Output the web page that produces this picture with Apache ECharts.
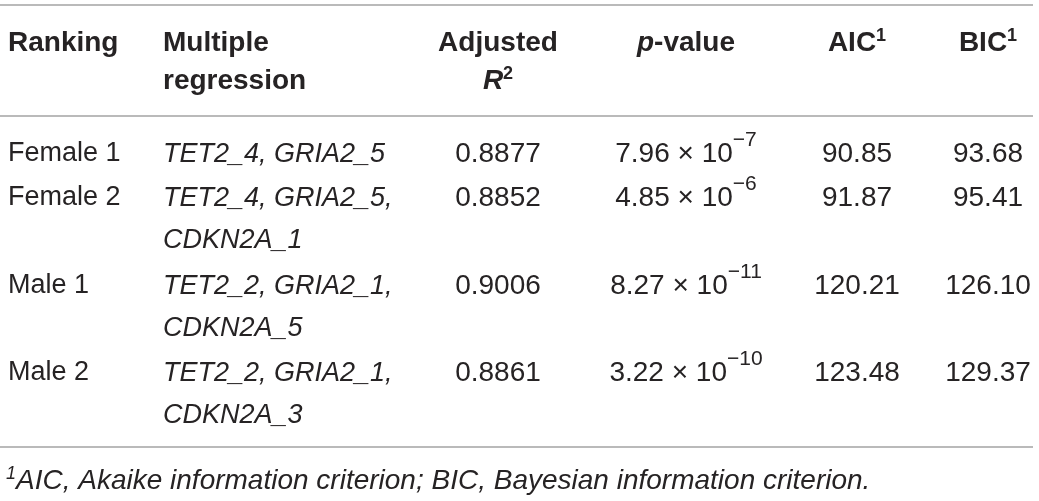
<!DOCTYPE html>
<html>
<head>
<meta charset="utf-8">
<script src="https://cdn.jsdelivr.net/npm/echarts@6/dist/echarts.min.js"></script>
<style>
html, body { margin: 0; padding: 0; background: #fff; }
#main { width: 1039px; height: 501px; }
</style>
</head>
<body>
<div id="main"></div>
<script>
// table data
var ranking = ['Female 1', 'Female 2', 'Male 1', 'Male 2'];
var regression = [
  ['TET2_4, GRIA2_5'],
  ['TET2_4, GRIA2_5,', 'CDKN2A_1'],
  ['TET2_2, GRIA2_1,', 'CDKN2A_5'],
  ['TET2_2, GRIA2_1,', 'CDKN2A_3']
];
var adjustedR2 = [0.8877, 0.8852, 0.9006, 0.8861];
var pMantissa = [7.96, 4.85, 8.27, 3.22];
var pExponent = [-7, -6, -11, -10];
var aic = [90.85, 91.87, 120.21, 123.48];
var bic = [93.68, 95.41, 126.10, 129.37];

// header lines (rich text markup)
var headers = [
  ['{b|Ranking}'],
  ['{b|Multiple}', '{b|regression}'],
  ['{b|Adjusted}', '{bi|R}{bs|2}'],
  ['{bi|p}{b|-value}'],
  ['{b|AIC}{bs|1}'],
  ['{b|BIC}{bs|1}']
];
var footnote = '{fs|1}{fi|AIC, Akaike information criterion; BIC, Bayesian information criterion.}';

// layout
var colX = [8, 163, 498, 686, 857, 988];
var colAlign = ['left', 'left', 'center', 'center', 'center', 'center'];
var headerY = [43, 81];
var rowY = [154, 198, 286, 373];
var lineGap = 42;
var ruleY = [5, 116, 447];
var ruleEnd = 1033;
var footY = 481;

var INK = '#262324';
var FONT = '"Liberation Sans", Arial, Helvetica, sans-serif';
var SIZE = 28;
var RICH = {
  b:  { fontFamily: FONT, fontSize: SIZE, fontWeight: 'bold', lineHeight: 32, fill: INK },
  bi: { fontFamily: FONT, fontSize: SIZE, fontWeight: 'bold', fontStyle: 'italic', lineHeight: 32, fill: INK },
  bs: { fontFamily: FONT, fontSize: 18, fontWeight: 'bold', verticalAlign: 'top', lineHeight: 18, fill: INK },
  n:  { fontFamily: FONT, fontSize: SIZE, lineHeight: 32, fill: INK },
  t:  { fontFamily: FONT, fontSize: 27, lineHeight: 32, fill: INK },
  pn: { fontFamily: FONT, fontSize: SIZE, lineHeight: 48, fill: INK },
  i:  { fontFamily: FONT, fontSize: 27, fontStyle: 'italic', lineHeight: 32, fill: INK },
  s:  { fontFamily: FONT, fontSize: 21, verticalAlign: 'top', lineHeight: 21, fill: INK },
  fi: { fontFamily: FONT, fontSize: SIZE, fontStyle: 'italic', lineHeight: 32, fill: INK },
  fs: { fontFamily: FONT, fontSize: 18, fontStyle: 'italic', verticalAlign: 'top', lineHeight: 18, fill: INK }
};

// build the cells
var cells = [];
function addCell(col, y, text) {
  cells.push({ x: colX[col], y: y, text: text, align: colAlign[col] });
}
for (var j = 0; j < headers.length; j++) {
  for (var k = 0; k < headers[j].length; k++) {
    addCell(j, headerY[k], headers[j][k]);
  }
}
for (var i = 0; i < ranking.length; i++) {
  var y = rowY[i];
  addCell(0, y, '{t|' + ranking[i] + '}');
  for (var k = 0; k < regression[i].length; k++) {
    addCell(1, y + k * lineGap, '{i|' + regression[i][k] + '}');
  }
  addCell(2, y, '{n|' + adjustedR2[i].toFixed(4) + '}');
  addCell(3, y, '{pn|' + pMantissa[i].toFixed(2) + ' \u00d7 10}{s|\u2212' + Math.abs(pExponent[i]) + '}');
  addCell(4, y, '{n|' + aic[i].toFixed(2) + '}');
  addCell(5, y, '{n|' + bic[i].toFixed(2) + '}');
}
cells.push({ x: 6, y: footY, text: footnote, align: 'left' });

var chart = echarts.init(document.getElementById('main'));
var option = {
  animation: false,
  backgroundColor: '#fff',
  grid: { left: 0, right: 0, top: 0, bottom: 0 },
  xAxis: { type: 'value', min: 0, max: 1039, show: false },
  yAxis: { type: 'value', min: 0, max: 501, inverse: true, show: false },
  series: [
    {
      type: 'custom',
      silent: true,
      data: ruleY.map(function (v) { return [0, v, ruleEnd]; }),
      renderItem: function (params, api) {
        var p0 = api.coord([api.value(0), api.value(1)]);
        var p1 = api.coord([api.value(2), api.value(1)]);
        return {
          type: 'line',
          shape: { x1: p0[0], y1: p0[1], x2: p1[0], y2: p1[1] },
          style: { stroke: '#a3a3a3', lineWidth: 1.5 }
        };
      }
    },
    {
      type: 'custom',
      silent: true,
      data: cells.map(function (c, idx) { return [c.x, c.y, idx]; }),
      renderItem: function (params, api) {
        var c = cells[api.value(2)];
        var p = api.coord([api.value(0), api.value(1)]);
        return {
          type: 'text',
          x: p[0],
          y: p[1],
          style: {
            text: c.text,
            rich: RICH,
            align: c.align,
            verticalAlign: 'middle',
            fill: INK
          }
        };
      }
    }
  ]
};
chart.setOption(option);
</script>
</body>
</html>
